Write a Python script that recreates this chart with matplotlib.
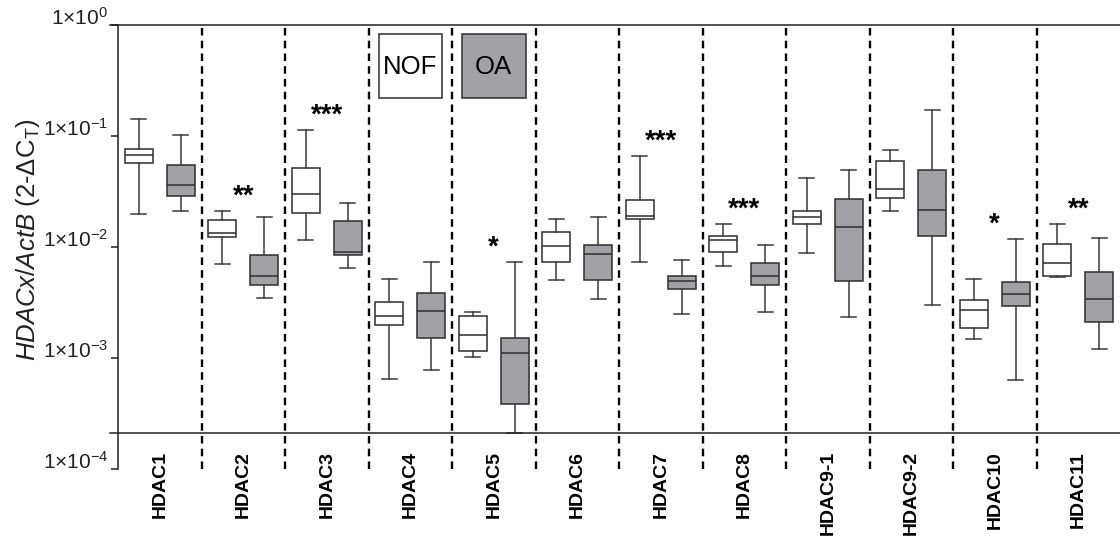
import numpy as np
import matplotlib
matplotlib.use("Agg")
import matplotlib.pyplot as plt
import matplotlib.transforms as mtransforms
from matplotlib.patches import Rectangle

# HDAC expression relative to ActB, NOF vs OA cartilage
genes = ["HDAC1", "HDAC2", "HDAC3", "HDAC4", "HDAC5", "HDAC6",
         "HDAC7", "HDAC8", "HDAC9-1", "HDAC9-2", "HDAC10", "HDAC11"]

# box stats per gene: whisker low, q1, median, q3, whisker high
nof_low = [0.0198, 0.00711, 0.0116, 0.000651, 0.00103, 0.00504,
           0.00741, 0.00678, 0.00881, 0.0213, 0.00149, 0.00536]
nof_q1 = [0.0576, 0.01244, 0.0203, 0.00199, 0.00117, 0.00731,
          0.0180, 0.00906, 0.0162, 0.0275, 0.00186, 0.00554]
nof_med = [0.0676, 0.01334, 0.0301, 0.00242, 0.00160, 0.01019,
           0.0189, 0.01161, 0.0188, 0.0336, 0.00274, 0.00726]
nof_q3 = [0.0771, 0.01746, 0.0519, 0.00323, 0.00242, 0.01371,
          0.0264, 0.0127, 0.0212, 0.0601, 0.00333, 0.0107]
nof_high = [0.1426, 0.0213, 0.1142, 0.00514, 0.00259, 0.0178,
            0.0667, 0.0162, 0.0417, 0.0750, 0.00514, 0.0162]

oa_low = [0.0213, 0.00351, 0.00646, 0.000774, 0.000213, 0.00340,
          0.00249, 0.00261, 0.00236, 0.00304, 0.000638, 0.00122]
oa_q1 = [0.0291, 0.00457, 0.00857, 0.00152, 0.000390, 0.00504,
         0.00415, 0.00451, 0.00493, 0.0127, 0.00296, 0.00211]
oa_med = [0.0363, 0.00554, 0.00912, 0.00267, 0.00111, 0.00863,
          0.00493, 0.00551, 0.0151, 0.0218, 0.00379, 0.00340]
oa_q3 = [0.0549, 0.00857, 0.0171, 0.00385, 0.00152, 0.0104,
         0.00554, 0.00726, 0.0270, 0.0495, 0.00480, 0.00594]
oa_high = [0.103, 0.0187, 0.0252, 0.00741, 0.00741, 0.0187,
           0.00762, 0.01047, 0.0495, 0.173, 0.01186, 0.0121]

significance = ["", "**", "***", "", "*", "", "***", "***", "", "", "*", "**"]
groups = ["NOF", "OA"]
baseline = 2.13e-4

family = "Liberation Sans"
plt.rcParams["font.family"] = [family, "DejaVu Sans"]
plt.rcParams["mathtext.fontset"] = "custom"
plt.rcParams["mathtext.rm"] = family
plt.rcParams["mathtext.it"] = family + ":italic"
plt.rcParams["mathtext.bf"] = family + ":bold"

grey = "#a2a2a6"
edge = "#2e2e2e"


def stats(low, q1, med, q3, high):
    return [dict(whislo=a, q1=b, med=c, q3=d, whishi=e, fliers=[])
            for a, b, c, d, e in zip(low, q1, med, q3, high)]


fig = plt.figure(figsize=(11.2, 5.5), dpi=100)
ax = fig.add_axes([0.1054, 0.147, 0.8946, 0.8075])
ax.set_yscale("log")
ax.set_ylim(1e-4, 1e0)
ax.set_xlim(-0.5, len(genes) - 0.5)

x = np.arange(len(genes))
for offset, face, data in [
        (-0.25, "white", stats(nof_low, nof_q1, nof_med, nof_q3, nof_high)),
        (0.25, grey, stats(oa_low, oa_q1, oa_med, oa_q3, oa_high))]:
    ax.bxp(data, positions=x + offset, widths=0.335, capwidths=0.18,
           showfliers=False, patch_artist=True,
           boxprops=dict(facecolor=face, edgecolor=edge, linewidth=1.1),
           medianprops=dict(color=edge, linewidth=1.1),
           whiskerprops=dict(color="#3a3a3a", linewidth=1.1),
           capprops=dict(color="#3a3a3a", linewidth=1.1),
           manage_ticks=False)

# dashed separators between genes
for sep in x[:-1] + 0.5:
    ax.axvline(sep, color="black", linewidth=1.7, linestyle=(0, (3.2, 2.2)))

# top line and baseline run slightly past the y axis
blend = mtransforms.blended_transform_factory(ax.transAxes, ax.transData)
for yv in [1e0, baseline]:
    ax.plot([-0.008, 1.0], [yv, yv], transform=blend, color="#222222",
            linewidth=1.1, clip_on=False)

# significance marks above the taller whisker of each pair
for i, mark in enumerate(significance):
    if mark:
        top = max(nof_high[i], oa_high[i])
        ax.annotate(mark, xy=(i, top), xytext=(0, 10),
                    textcoords="offset points", ha="center", va="center",
                    fontsize=20, fontweight="bold")

# group key drawn as boxes inside the HDAC4 / HDAC5 columns
blend_xa = mtransforms.blended_transform_factory(ax.transData, ax.transAxes)
for i, (name, face) in enumerate(zip(groups, ["white", grey])):
    xc = 3 + i
    ax.add_patch(Rectangle((xc - 0.38, 0.836), 0.76, 0.144, transform=blend_xa,
                           facecolor=face, edgecolor=edge, linewidth=1.1))
    ax.text(xc, 0.905, name, transform=blend_xa, ha="center", va="center",
            fontsize=18.5, color="black")

ax.spines["right"].set_visible(False)
ax.spines["bottom"].set_visible(False)
ax.spines["top"].set_visible(False)
ax.spines["left"].set_color("#222222")
ax.spines["left"].set_linewidth(1.1)

yt = [1e-4, 1e-3, 1e-2, 1e-1, 1e0]
ax.set_yticks(yt)
ax.set_yticklabels([r"$1{\times}10^{%d}$" % int(np.log10(v)) for v in yt],
                   fontsize=15, color="#222222")
ax.yaxis.set_minor_locator(matplotlib.ticker.NullLocator())
ax.tick_params(axis="y", length=5, width=1.1, color="#222222", pad=2)
for lab in ax.get_yticklabels():
    lab.set_verticalalignment("baseline")

ax.set_xticks(x)
ax.set_xticklabels(genes, rotation=90, fontweight="bold", fontsize=14,
                   va="top", ha="center")
ax.tick_params(axis="x", length=0, pad=-13)

ax.set_ylabel(r"$\mathit{HDACx/ActB}$ (2-$\Delta$C$_\mathrm{T}$)",
              fontsize=18.5, color="#222222")
ax.yaxis.set_label_coords(-0.076, 0.516)

fig.savefig("out.png", dpi=100)
